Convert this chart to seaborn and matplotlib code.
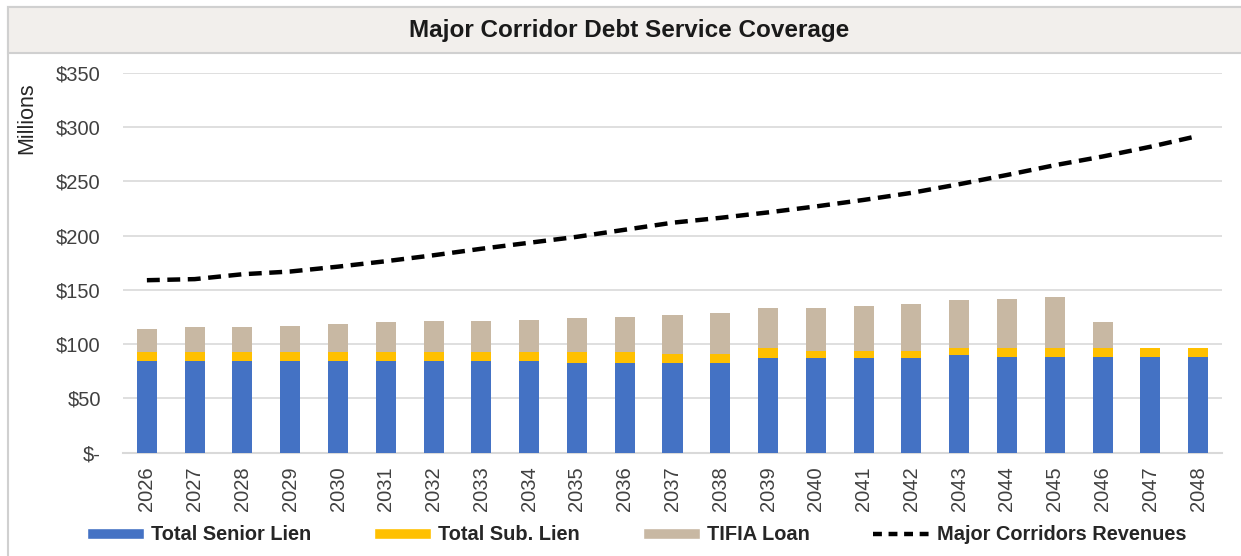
import numpy as np
import pandas as pd
import matplotlib.pyplot as plt
import seaborn as sns
from matplotlib.patches import Patch, Rectangle
from matplotlib.lines import Line2D
from matplotlib.ticker import FuncFormatter

# Data ($ millions)
years = [str(y) for y in range(2026, 2049)]
senior_lien = [84.2] * 9 + [82.7] * 4 + [87.0] * 4 + [89.8] + [88.5] * 5
sub_lien = [8.3] * 9 + [9.8, 9.8, 8.3, 8.3, 9.8, 6.7, 6.7, 6.7, 7.0] + [8.3] * 5
tifia_loan = [21.8, 23.1, 23.1, 24.6, 26.1, 27.7, 28.6, 28.6, 30.1, 31.4, 32.9,
              35.9, 37.5, 36.9, 40.0, 41.5, 43.1, 43.9, 45.1, 46.7, 23.4, 0.0, 0.0]
revenues = [159, 160, 164.5, 167, 171.5, 176.5, 182, 188, 193.5, 199, 205.5, 212,
            216.5, 221.5, 227, 233, 239.5, 247.5, 256, 265, 273, 282, 292]

colors = {"senior": "#4472C4", "sub": "#FFC000", "tifia": "#C8B8A3", "grid": "#D9D9D9"}


def plot_coverage(output_file="out.png"):
    df = pd.DataFrame({"year": years, "senior": senior_lien, "sub": sub_lien, "tifia": tifia_loan})
    df["senior_sub"] = df["senior"] + df["sub"]
    df["total"] = df["senior_sub"] + df["tifia"]

    sns.set_style("white")
    plt.rcParams["font.family"] = ["Liberation Sans", "DejaVu Sans"]

    fig = plt.figure(figsize=(12.41, 5.56), dpi=100)
    ax = fig.add_axes([123 / 1241, 103.3 / 556, 1099 / 1241, 379.7 / 556])

    # stacked bars: draw cumulative totals from the top down
    sns.barplot(data=df, x="year", y="total", color=colors["tifia"], width=0.42,
                linewidth=0, saturation=1, ax=ax, zorder=3)
    sns.barplot(data=df, x="year", y="senior_sub", color=colors["sub"], width=0.42,
                linewidth=0, saturation=1, ax=ax, zorder=3)
    sns.barplot(data=df, x="year", y="senior", color=colors["senior"], width=0.42,
                linewidth=0, saturation=1, ax=ax, zorder=3)

    sns.lineplot(x=np.arange(len(years)), y=revenues, color="black", linewidth=3.2,
                 ax=ax, zorder=4)
    ax.lines[-1].set_dashes([2.9, 1.7])

    ax.set_xlim(-0.5, len(years) - 0.5)
    ax.set_ylim(0, 350)
    ax.set_yticks(np.arange(0, 351, 50))
    ax.yaxis.set_major_formatter(FuncFormatter(lambda v, p: "$-" if v == 0 else f"${v:.0f}"))
    ax.grid(axis="y", color=colors["grid"], linewidth=1.2, zorder=0)
    ax.set_axisbelow(True)
    for s in ["top", "right", "left"]:
        ax.spines[s].set_visible(False)
    ax.spines["bottom"].set_color(colors["grid"])
    ax.spines["bottom"].set_linewidth(1.5)
    ax.set_xlabel("")
    ax.set_ylabel("")
    ax.tick_params(axis="y", length=0, pad=16, labelsize=14.5, labelcolor="#404040")
    ax.tick_params(axis="x", length=0, pad=10, labelsize=14.5, labelcolor="#404040", rotation=90)

    # chart frame and title band
    fig.patches.append(Rectangle((8 / 1241, -0.05), 1.2, 1.0 - 7 / 556 + 0.05,
                                 transform=fig.transFigure, fill=False,
                                 edgecolor="#D0D0D0", linewidth=1.5, zorder=0))
    fig.patches.append(Rectangle((8 / 1241, 1 - 53 / 556), 1.2, 46 / 556,
                                 transform=fig.transFigure, facecolor="#F2EFEC",
                                 edgecolor="#D0D0D0", linewidth=1.5, zorder=0))
    fig.text(0.507, 1 - 30 / 556, "Major Corridor Debt Service Coverage",
             ha="center", va="center", fontsize=17.5, fontweight="bold", color="#1a1a1a")
    fig.text(27 / 1241, 1 - 118 / 556, "Millions", rotation=90, ha="center", va="center",
             fontsize=15.5, color="#262626")

    handles = [
        Patch(facecolor=colors["senior"], label="Total Senior Lien"),
        Patch(facecolor=colors["sub"], label="Total Sub. Lien"),
        Patch(facecolor=colors["tifia"], label="TIFIA Loan"),
        Line2D([0], [0], color="black", linewidth=3.2, dashes=[2.0, 1.5], label="Major Corridors Revenues"),
    ]
    fig.legend(handles=handles, loc="center", bbox_to_anchor=(0.513, 21 / 556), ncol=4,
               frameon=False, handlelength=2.85, handleheight=0.5, handletextpad=0.35,
               columnspacing=3.15, prop={"weight": "bold", "size": 14.4})

    plt.savefig(output_file, dpi=100)
    plt.close(fig)


if __name__ == "__main__":
    plot_coverage("out.png")
